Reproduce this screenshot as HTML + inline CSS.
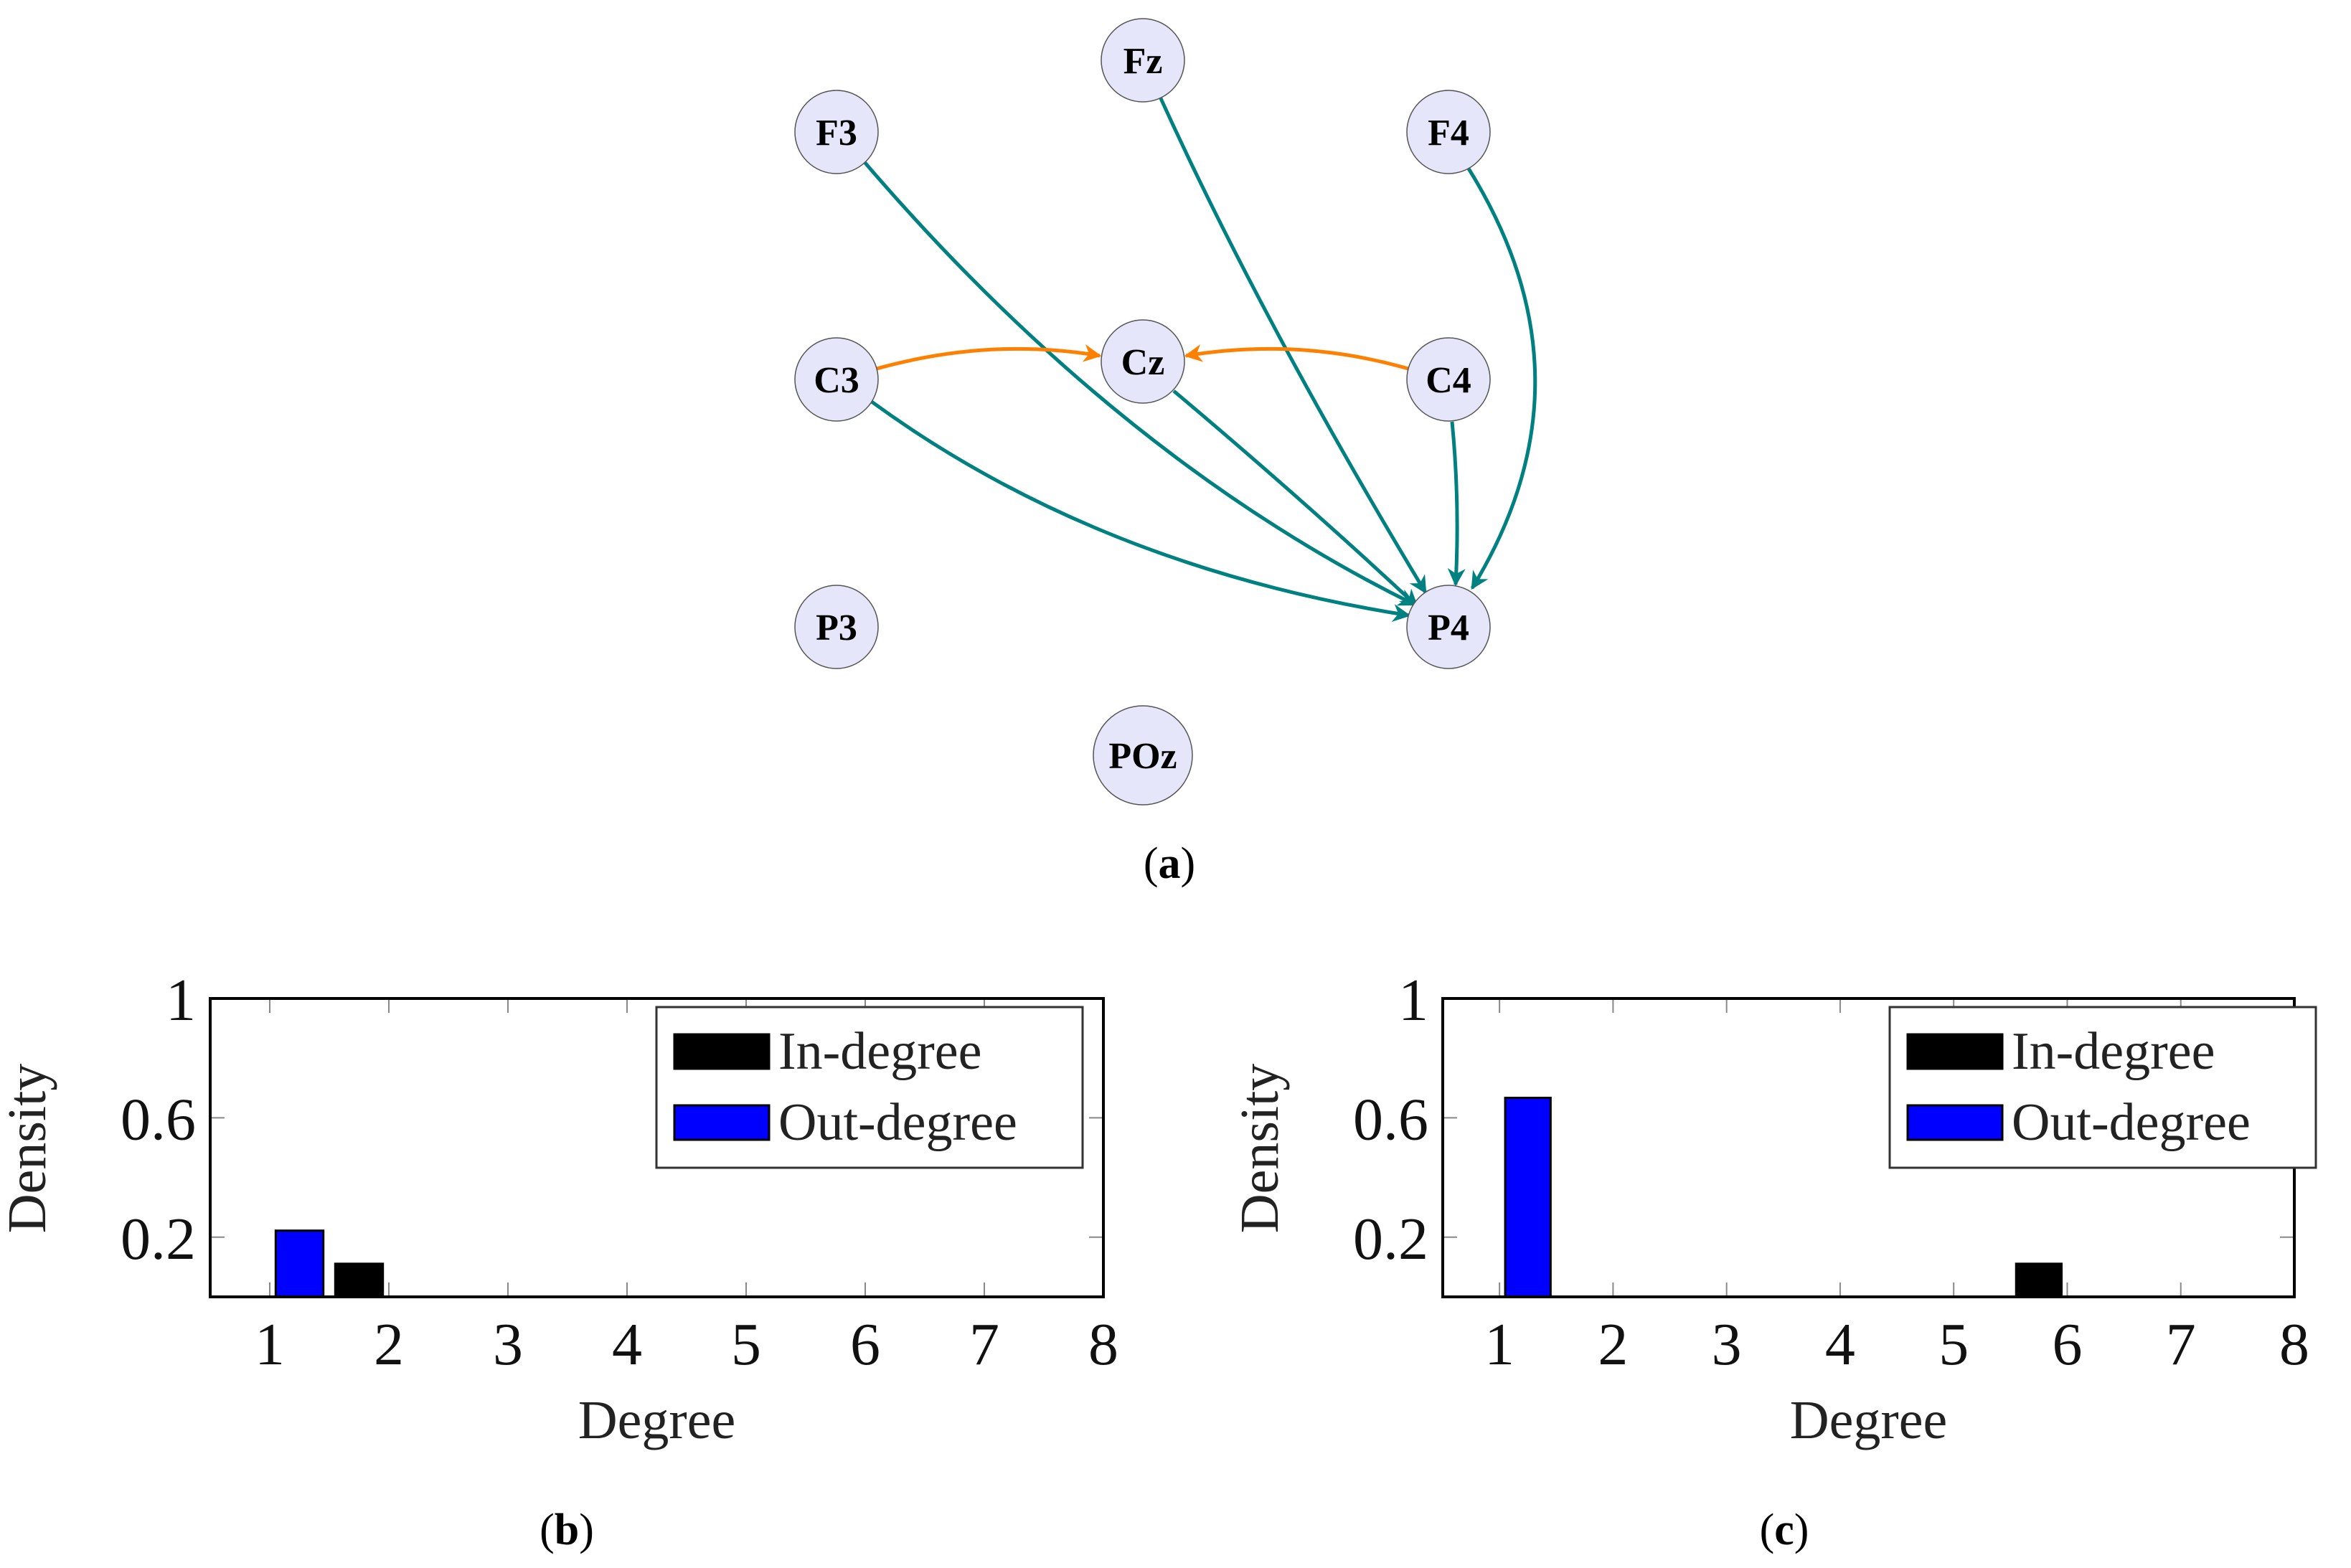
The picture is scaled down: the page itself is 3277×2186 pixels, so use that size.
<!DOCTYPE html>
<html><head><meta charset="utf-8"><style>
html,body{margin:0;padding:0;background:#fff}
svg{display:block;font-family:"Liberation Serif",serif}
</style></head><body>
<svg width="3277" height="2186" viewBox="0 0 3277 2186" xmlns="http://www.w3.org/2000/svg">
<defs>
<marker id="at" viewBox="0 0 10 10" refX="9" refY="5" markerWidth="5" markerHeight="5" orient="auto" markerUnits="strokeWidth"><path d="M0,0 L10,5 L0,10 L3,5 z" fill="#008080"/></marker>
<marker id="ao" viewBox="0 0 10 10" refX="9" refY="5" markerWidth="5" markerHeight="5" orient="auto" markerUnits="strokeWidth"><path d="M0,0 L10,5 L0,10 L3,5 z" fill="#ff8000"/></marker>
</defs>
<g id="graph" fill="none" stroke-width="5">
<path d="M1205,226 Q1560,640 1972,843" stroke="#008080" marker-end="url(#at)"/>
<path d="M1617,135 Q1760,450 1987,826" stroke="#008080" marker-end="url(#at)"/>
<path d="M2047,235 Q2230,529 2052,820" stroke="#008080" marker-end="url(#at)"/>
<path d="M1636,545 Q1820,700 1975,845" stroke="#008080" marker-end="url(#at)"/>
<path d="M2024,588 Q2035,700 2029,815" stroke="#008080" marker-end="url(#at)"/>
<path d="M1215,560 Q1530,790 1964,858" stroke="#008080" marker-end="url(#at)"/>
<path d="M1222,514 Q1380,470 1533,496" stroke="#ff8000" marker-end="url(#ao)"/>
<path d="M1963,514 Q1810,470 1653,496" stroke="#ff8000" marker-end="url(#ao)"/>
</g>
<g id="nodes"></g>
<text x="1630" y="1224" font-size="62" text-anchor="middle">(<tspan font-weight="bold">a</tspan>)</text>
<g id="chartb"></g><g id="chartc"></g>
<text x="790" y="2153" font-size="62" text-anchor="middle">(<tspan font-weight="bold">b</tspan>)</text>
<text x="2487" y="2153" font-size="62" text-anchor="middle">(<tspan font-weight="bold">c</tspan>)</text>
</svg>
<script>
const NS="http://www.w3.org/2000/svg";
function mk(p,t,a){const e=document.createElementNS(NS,t);for(const k in a)e.setAttribute(k,a[k]);p.appendChild(e);return e;}
const nodeNames=["F3","Fz","F4","C3","Cz","C4","P3","P4","POz"];
const nodeX=[1166,1593,2019,1166,1593,2019,1166,2019,1593];
const nodeY=[184,84,184,529,504,529,874,874,1053];
const ng=document.getElementById('nodes');
nodeNames.forEach((n,i)=>{
  const r=n==="POz"?69:58;
  const c=mk(ng,'circle',{cx:nodeX[i],cy:nodeY[i],r:r,fill:"#e6e6fa",stroke:"#555","stroke-width":1.5});
  
  
  const t=mk(ng,'text',{x:nodeX[i],y:nodeY[i]+18,"font-size":52,"font-weight":"bold","text-anchor":"middle"});
  t.textContent=n;
  
  
});

const xTicks=[1,2,3,4,5,6,7,8];
const yTicks=[0.2,0.6,1];
const yTickLabels=["0.2","0.6","1"];
const bInDegree=[0,0.111,0,0,0,0,0,0];
const bOutDegree=[0.222,0,0,0,0,0,0,0];
const cInDegree=[0,0,0,0,0,0.111,0,0];
const cOutDegree=[0.667,0,0,0,0,0,0,0];

function chart(id,L,R,legL,inD,outD,suffix){
  const g=document.getElementById(id);
  const T=1392,B=1808,xmin=0.5,xmax=8;
  const X=v=>L+(v-xmin)/(xmax-xmin)*(R-L);
  const Y=v=>B-v*(B-T);
  xTicks.forEach(v=>{
    mk(g,'line',{x1:X(v),x2:X(v),y1:B,y2:B-20,stroke:"#888","stroke-width":2});
    mk(g,'line',{x1:X(v),x2:X(v),y1:T,y2:T+20,stroke:"#888","stroke-width":2});
    const t=mk(g,'text',{x:X(v),y:1902,"font-size":84,"text-anchor":"middle",fill:"#111"});
    t.textContent=v;
    
    
  });
  yTicks.forEach((v,i)=>{
    mk(g,'line',{x1:L,x2:L+20,y1:Y(v),y2:Y(v),stroke:"#888","stroke-width":2});
    mk(g,'line',{x1:R,x2:R-20,y1:Y(v),y2:Y(v),stroke:"#888","stroke-width":2});
    const t=mk(g,'text',{x:L-20,y:Y(v)+30,"font-size":84,"text-anchor":"end",fill:"#111"});
    t.textContent=yTickLabels[i];
    
    
  });
  const bw=0.4*(R-L)/(xmax-xmin);
  xTicks.forEach((v,i)=>{
    if(outD[i]>0){const b=mk(g,'rect',{x:X(v+0.25)-bw/2,y:Y(outD[i]),width:bw,height:Y(0)-Y(outD[i]),fill:"#0000ff",stroke:"#000","stroke-width":3});
      
      }
    if(inD[i]>0){const b=mk(g,'rect',{x:X(v-0.25)-bw/2,y:Y(inD[i]),width:bw,height:Y(0)-Y(inD[i]),fill:"#000",stroke:"#000","stroke-width":3});
      
      }
  });
  const box=mk(g,'rect',{x:L,y:T,width:R-L,height:B-T,fill:"none",stroke:"#000","stroke-width":4});
  
  
  const lg=mk(g,'g',{});
  
  
  mk(lg,'rect',{x:legL,y:1404,width:594,height:224,fill:"#fff",stroke:"#333","stroke-width":3});
  mk(lg,'rect',{x:legL+25,y:1442,width:132,height:48,fill:"#000",stroke:"#000","stroke-width":3});
  mk(lg,'rect',{x:legL+25,y:1541,width:132,height:48,fill:"#0000ff",stroke:"#000","stroke-width":3});
  const t1=mk(lg,'text',{x:legL+170,y:1490,"font-size":74,fill:"#222"});t1.textContent="In-degree";
  
  
  const t2=mk(lg,'text',{x:legL+170,y:1589,"font-size":74,fill:"#222"});t2.textContent="Out-degree";
  
  
  const xl=mk(g,'text',{x:(L+R)/2,y:2005,"font-size":76,"text-anchor":"middle",fill:"#222"});xl.textContent="Degree";
  
  
  const yx=L-230,yy=1601;
  const yl=mk(g,'text',{x:yx,y:yy,"font-size":76,"text-anchor":"middle",fill:"#222",transform:`rotate(-90 ${yx} ${yy})`});yl.textContent="Density";
  
  
}
chart('chartb',293,1538,915,bInDegree,bOutDegree,'b');
chart('chartc',2011,3198,2634,cInDegree,cOutDegree,'c');
</script>
</body></html>
